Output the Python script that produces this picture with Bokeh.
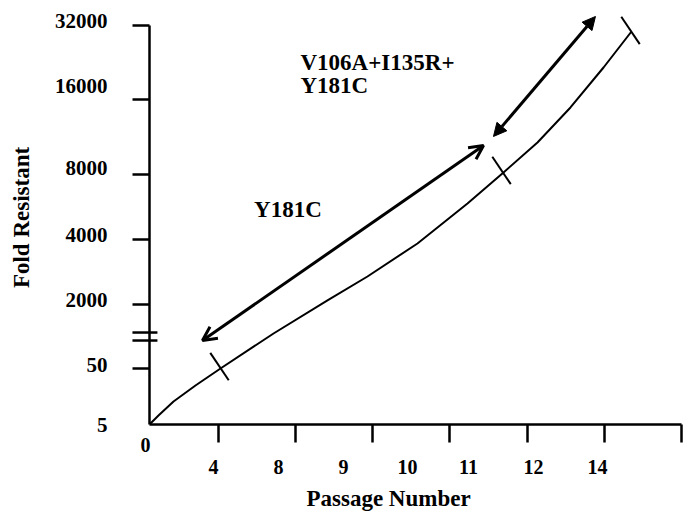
import math
from bokeh.plotting import figure
from bokeh.models import (Range1d, LinearAxis, FixedTicker, Arrow, OpenHead,
                          NormalHead)
from bokeh.core.properties import value
from bokeh.embed import file_html
from bokeh.resources import INLINE

# ---------------- data (schematic axis units) ----------------
x_tick_pos = [0.908, 1.921, 2.934, 3.947, 4.974, 5.987, 7.0]
x_label_pos = [0.842, 1.697, 2.553, 3.395, 4.197, 5.053, 5.895]
x_labels = ["4", "8", "9", "10", "11", "12", "14"]

y_tick_pos = [0.862, 1.846, 2.846, 3.846, 5.0, 6.138]
y_label_pos = [0.0, 0.908, 1.908, 2.92, 3.94, 5.215, 6.215]
y_labels = ["5", "50", "2000", "4000", "8000", "16000", "32000"]
y_break_pos = [1.292, 1.415]

curve_x = [0.0, 0.118, 0.316, 0.605, 0.934, 1.632, 2.342, 2.868, 3.526,
           4.184, 4.658, 5.105, 5.539, 5.974, 6.342]
curve_y = [0.0, 0.138, 0.354, 0.6, 0.862, 1.4, 1.908, 2.277, 2.785,
           3.4, 3.877, 4.338, 4.877, 5.492, 6.046]

stage_x = [0.921, 4.632, 6.329]
stage_y = [0.892, 3.908, 6.062]

arrow1 = dict(x_start=0.697, y_start=1.292, x_end=4.395, y_end=4.292)
arrow2 = dict(x_start=4.526, y_start=4.431, x_end=5.868, y_end=6.277)

label_texts = ["V106A+I135R+", "Y181C"]
label_x = [1.987, 1.987]
label_y = [5.569, 5.208]
y181c_text = "Y181C"
y181c_x, y181c_y = 1.822, 3.308
origin_label = "0"
origin_label_x, origin_label_y = -0.053, -0.308
x_title = "Passage Number"
x_title_x, x_title_y = 3.145, -1.14
y_title = "Fold Resistant"

# ---------------- styling ----------------
FONT = "Liberation Serif"
X_MAX, Y_MAX = 7.0, 6.369

p = figure(width=683, height=514, x_range=Range1d(0, X_MAX),
           y_range=Range1d(0, Y_MAX), output_backend="svg",
           toolbar_location=None, x_axis_location=None, y_axis_location=None,
           min_border_left=149, min_border_right=2, min_border_top=10,
           min_border_bottom=90)
p.outline_line_color = None
for g in p.grid:
    g.visible = False

# x axis: ticks and line (no labels)
xt = LinearAxis(ticker=FixedTicker(ticks=x_tick_pos, minor_ticks=[]),
                bounds=(0, x_tick_pos[-1]), axis_line_width=2.5,
                major_tick_line_width=2.5, major_tick_out=18, major_tick_in=0,
                minor_tick_out=0, major_label_text_color=None,
                major_label_text_font_size="1px", major_label_standoff=0)
p.add_layout(xt, "below")
# x axis: labels
xl = LinearAxis(ticker=FixedTicker(ticks=x_label_pos, minor_ticks=[]),
                major_label_overrides={v: t for v, t in zip(x_label_pos, x_labels)},
                axis_line_color=None, major_tick_line_color=None,
                minor_tick_line_color=None, major_tick_out=0, major_tick_in=0,
                major_label_standoff=17, major_label_text_font=FONT,
                major_label_text_font_style="bold",
                major_label_text_font_size="20px",
                major_label_text_color="black")
p.add_layout(xl, "below")

# y axis: ticks and line (no labels)
yt = LinearAxis(ticker=FixedTicker(ticks=y_tick_pos, minor_ticks=[]),
                bounds=(0, y_tick_pos[-1]), axis_line_width=2.5,
                major_tick_line_width=2.5, major_tick_out=17, major_tick_in=0,
                minor_tick_out=0, major_label_text_color=None,
                major_label_text_font_size="1px", major_label_standoff=0)
p.add_layout(yt, "left")
# y axis: labels and title
yl = LinearAxis(ticker=FixedTicker(ticks=y_label_pos, minor_ticks=[]),
                major_label_overrides={v: t for v, t in zip(y_label_pos, y_labels)},
                axis_line_color=None, major_tick_line_color=None,
                minor_tick_line_color=None, major_tick_out=0, major_tick_in=0,
                major_label_standoff=25, major_label_text_font=FONT,
                major_label_text_font_style="bold",
                major_label_text_font_size="21px",
                major_label_text_color="black",
                axis_label=y_title, axis_label_text_font=FONT,
                axis_label_text_font_style="bold",
                axis_label_text_font_size="23px",
                axis_label_text_color="black", axis_label_standoff=18)
p.add_layout(yl, "left")

# axis break marks
p.scatter(x=[-0.06] * len(y_break_pos), y=y_break_pos, marker="dash",
          size=25, line_width=2.5, line_color="black", level="overlay")

# resistance curve
p.line(curve_x, curve_y, line_width=2, line_color="black")
# stage marks across the curve
p.scatter(x=stage_x, y=stage_y, marker="dash", size=33,
          angle=math.radians(-56), line_width=2, line_color="black")

# arrows
p.add_layout(Arrow(**arrow1, line_width=3, line_color="black",
                   start=OpenHead(size=14, line_width=3, line_color="black"),
                   end=OpenHead(size=14, line_width=3, line_color="black")))
p.add_layout(Arrow(**arrow2, line_width=3, line_color="black",
                   start=NormalHead(size=13, line_width=1, line_color="black", fill_color="black"),
                   end=NormalHead(size=13, line_width=1, line_color="black", fill_color="black")))

# text annotations
p.text(x=label_x, y=label_y, text=label_texts, text_font=value(FONT),
       text_font_style="bold", text_font_size="23px", text_align="left",
       text_baseline="middle", text_color="black")
p.text(x=[y181c_x], y=[y181c_y], text=[y181c_text], text_font=value(FONT),
       text_font_style="bold", text_font_size="23px", text_align="center",
       text_baseline="middle", text_color="black")

# origin tick label and x-axis title (outside the frame)
p.text(x=[origin_label_x], y=[origin_label_y], text=[origin_label],
       text_font=value(FONT), text_font_style="bold", text_font_size="20px",
       text_align="center", text_baseline="middle", text_color="black",
       level="overlay")
p.text(x=[x_title_x], y=[x_title_y], text=[x_title], text_font=value(FONT),
       text_font_style="bold", text_font_size="23px", text_align="center",
       text_baseline="middle", text_color="black", level="overlay")

open("out.html", "w").write(file_html(p, INLINE))
